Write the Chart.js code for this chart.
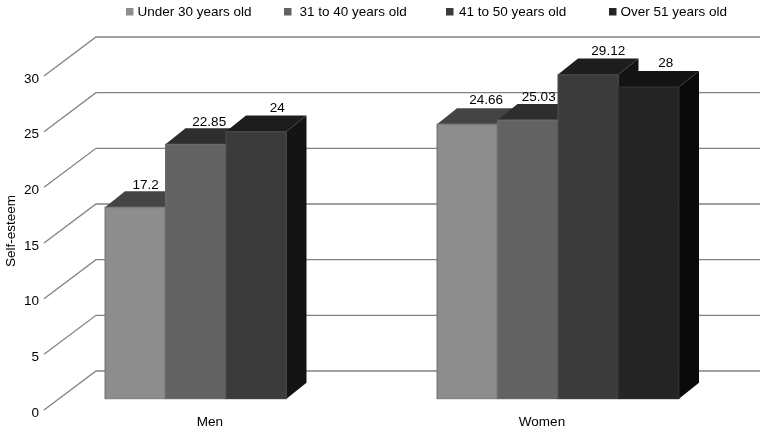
<!DOCTYPE html>
<html>
<head>
<meta charset="utf-8">
<style>html,body{margin:0;padding:0;background:#fff}canvas{display:block}</style>
<script src="https://cdn.jsdelivr.net/npm/chart.js@4"></script>
</head>
<body>
<canvas id="c" width="765" height="431"></canvas>
<script>
const categories = ['Men', 'Women'];
const seriesNames = ['Under 30 years old', '31 to 40 years old', '41 to 50 years old', 'Over 51 years old'];
const under30 = [17.2, 24.66];
const age31to40 = [22.85, 25.03];
const age41to50 = [24, 29.12];
const over51 = [null, 28];
const yTicksStep = 5;
const yMax = 30;

const frontColors = ['#8d8d8d', '#626262', '#3b3b3b', '#252525'];
const edgeColors = ['#7c7c7c', '#6a6a6a', '#464646', '#2e2e2e'];
const topColors = ['#444444', '#2e2e2e', '#1d1d1d', '#141414'];
const sideColors = ['#2a2a2a', '#1e1e1e', '#141414', '#0a0a0a'];
const labelShiftX = [[10.5, 19], [13.5, 11], [21, 20], [0, 17]];
const labelLift = [[6, 8], [6.5, 6.5], [7.5, 7], [0, 8]];
const legendBoxX = [126, 284, 446, 609];
const legendTextX = [137.5, 299.5, 459, 620.5];

const FAMILY = '"Liberation Sans", Arial, sans-serif';
const FONT = '13.5px ' + FAMILY;
const FLOOR = {dx: 52, dy: -39};
const INSET = {dx: 16, dy: -11.3};
const DEPTH = {dx: 20, dy: -16};

const threeD = {
  id: 'threeD',
  beforeDatasetsDraw(chart) {
    const ctx = chart.ctx, y = chart.scales.y, a = chart.chartArea;
    // grid walls
    ctx.save();
    ctx.strokeStyle = '#828282';
    ctx.lineWidth = 1.3;
    y.ticks.forEach(t => {
      const py = y.getPixelForValue(t.value);
      ctx.beginPath();
      ctx.moveTo(a.left, py);
      ctx.lineTo(a.left + FLOOR.dx, py + FLOOR.dy);
      ctx.lineTo(a.right + FLOOR.dx, py + FLOOR.dy);
      ctx.stroke();
    });
    // bars, painted left to right
    ctx.translate(INSET.dx, INSET.dy);
    chart.data.datasets.forEach((ds, i) => {
      chart.getDatasetMeta(i).data.forEach((el, j) => {
        if (ds.data[j] === null) return;
        const l = el.x - el.width / 2, r = el.x + el.width / 2, t = el.y, b = el.base;
        ctx.fillStyle = sideColors[i];
        ctx.beginPath();
        ctx.moveTo(r, t); ctx.lineTo(r + DEPTH.dx, t + DEPTH.dy);
        ctx.lineTo(r + DEPTH.dx, b + DEPTH.dy); ctx.lineTo(r, b);
        ctx.closePath(); ctx.fill();
        ctx.fillStyle = topColors[i];
        ctx.beginPath();
        ctx.moveTo(l, t); ctx.lineTo(l + DEPTH.dx, t + DEPTH.dy);
        ctx.lineTo(r + DEPTH.dx, t + DEPTH.dy); ctx.lineTo(r, t);
        ctx.closePath(); ctx.fill();
        ctx.fillStyle = edgeColors[i];
        ctx.fillRect(l - 0.5, t - 0.5, el.width + 1, b - t + 1);
        el.draw(ctx);
      });
    });
    // value labels
    ctx.font = FONT;
    ctx.fillStyle = '#000';
    ctx.textAlign = 'center';
    ctx.textBaseline = 'middle';
    chart.data.datasets.forEach((ds, i) => {
      chart.getDatasetMeta(i).data.forEach((el, j) => {
        if (ds.data[j] === null) return;
        ctx.fillText(String(ds.data[j]), el.x + labelShiftX[i][j], el.y + DEPTH.dy - labelLift[i][j]);
      });
    });
    ctx.restore();
    // y axis title
    ctx.save();
    ctx.font = FONT;
    ctx.fillStyle = '#000';
    ctx.textAlign = 'center';
    ctx.textBaseline = 'middle';
    ctx.translate(11, 231);
    ctx.rotate(-Math.PI / 2);
    ctx.fillText('Self-esteem', 0, 0);
    ctx.restore();
    // legend
    ctx.save();
    ctx.font = FONT;
    ctx.textAlign = 'left';
    ctx.textBaseline = 'middle';
    seriesNames.forEach((n, i) => {
      ctx.fillStyle = frontColors[i];
      ctx.fillRect(legendBoxX[i], 8, 7.5, 7.5);
      ctx.fillStyle = '#000';
      ctx.fillText(n, legendTextX[i], 12.5);
    });
    ctx.restore();
    return false;
  }
};

const allValues = [under30, age31to40, age41to50, over51];
const tickFont = {family: FAMILY, size: 13.5};
new Chart(document.getElementById('c'), {
  type: 'bar',
  data: {
    labels: categories,
    datasets: seriesNames.map((n, i) => ({
      label: n,
      data: allValues[i],
      backgroundColor: frontColors[i],
      borderColor: edgeColors[i],
      borderWidth: 1,
      categoryPercentage: 0.729,
      barPercentage: 1
    }))
  },
  options: {
    responsive: false,
    animation: false,
    devicePixelRatio: 1,
    layout: {padding: {left: 0, right: 57, top: 76, bottom: 0}},
    plugins: {
      tooltip: {enabled: false},
      legend: {display: false}
    },
    scales: {
      x: {
        grid: {display: false, drawTicks: false},
        border: {display: false},
        ticks: {color: '#000', padding: 4, font: tickFont},
        afterFit(s) { s.height = 21; }
      },
      y: {
        min: 0, max: yMax,
        grid: {display: false, drawTicks: false},
        border: {display: false},
        ticks: {stepSize: yTicksStep, color: '#000', padding: 5, labelOffset: 3, font: tickFont},
        afterFit(s) { s.width = 44; }
      }
    }
  },
  plugins: [threeD]
});
</script>
</body>
</html>
